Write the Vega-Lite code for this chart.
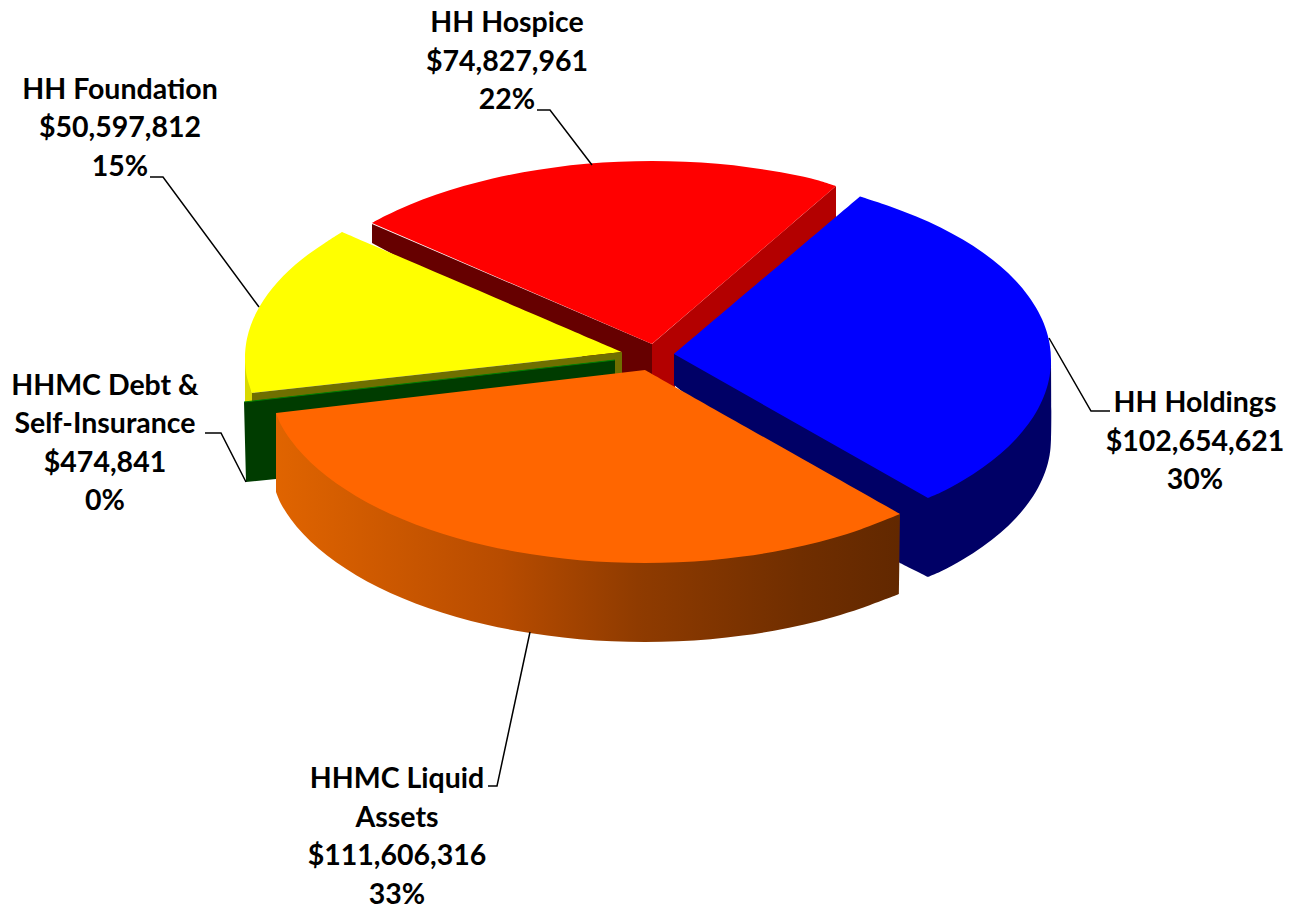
{"$schema":"https://vega.github.io/schema/vega-lite/v6.json","width":1301,"height":911,"padding":0,"autosize":{"type":"none"},"background":"#ffffff","config":{"view":{"stroke":null}},
"datasets":{"labels":[
{"name":"HH Hospice","label":"HH Hospice\n$74,827,961\n22%","x":507,"y":23},
{"name":"HH Foundation","label":"HH Foundation\n$50,597,812\n15%","x":120,"y":89.5},
{"name":"HHMC Debt & Self-Insurance","label":"HHMC Debt &\nSelf-Insurance\n$474,841\n0%","x":105,"y":385.5},
{"name":"HH Holdings","label":"HH Holdings\n$102,654,621\n30%","x":1195,"y":403},
{"name":"HHMC Liquid Assets","label":"HHMC Liquid\nAssets\n$111,606,316\n33%","x":397,"y":779}],
"shapes":[
{"p":"l1","x":537,"y":110},{"p":"l1","x":550,"y":110},{"p":"l1","x":592,"y":165},
{"p":"l2","x":150,"y":177},{"p":"l2","x":163,"y":177},{"p":"l2","x":259,"y":307},
{"p":"l3","x":1110,"y":411},{"p":"l3","x":1091,"y":411},{"p":"l3","x":1049,"y":338},
{"p":"l4","x":205,"y":433},{"p":"l4","x":221,"y":433},{"p":"l4","x":246,"y":482},
{"p":"l5","x":488,"y":786},{"p":"l5","x":497,"y":786},{"p":"l5","x":530,"y":632},
{"p":"rm","x":372,"y":224},{"p":"rm","x":652,"y":344},{"p":"rm","x":652,"y":378},{"p":"rm","x":622,"y":378},{"p":"rm","x":372,"y":243},
{"p":"rd","x":652,"y":344},{"p":"rd","x":836,"y":186},{"p":"rd","x":836,"y":222},{"p":"rd","x":680,"y":358},{"p":"rd","x":674,"y":392},{"p":"rd","x":652,"y":378},
{"p":"rt","x":652,"y":344},{"p":"rt","x":652,"y":344},{"p":"rt","x":836,"y":186},{"p":"rt","x":836,"y":186},{"p":"rt","x":811.3,"y":178.5},{"p":"rt","x":780.9,"y":172.3},{"p":"rt","x":749.6,"y":167.4},{"p":"rt","x":717.5,"y":163.8},{"p":"rt","x":684.9,"y":161.7},{"p":"rt","x":652,"y":161},{"p":"rt","x":619.1,"y":161.7},{"p":"rt","x":586.5,"y":163.8},{"p":"rt","x":554.4,"y":167.4},{"p":"rt","x":523.1,"y":172.3},{"p":"rt","x":492.7,"y":178.5},{"p":"rt","x":463.5,"y":186.1},{"p":"rt","x":435.8,"y":194.8},{"p":"rt","x":409.7,"y":204.7},{"p":"rt","x":385.4,"y":215.8},{"p":"rt","x":372,"y":223},{"p":"rt","x":372,"y":223},
{"p":"ns","x":674,"y":354},{"p":"ns","x":674,"y":354},{"p":"ns","x":1051,"y":360},{"p":"ns","x":1051,"y":360},{"p":"ns","x":1051,"y":439},{"p":"ns","x":1049.6,"y":455.3},{"p":"ns","x":1045.3,"y":471.6},{"p":"ns","x":1038.2,"y":487.5},{"p":"ns","x":1028.3,"y":503.1},{"p":"ns","x":1015.7,"y":518.2},{"p":"ns","x":1000.5,"y":532.8},{"p":"ns","x":982.8,"y":546.5},{"p":"ns","x":962.8,"y":559.5},{"p":"ns","x":940.6,"y":571.6},{"p":"ns","x":928,"y":577},{"p":"ns","x":928,"y":577},{"p":"ns","x":900,"y":563},{"p":"ns","x":900,"y":563},{"p":"ns","x":674,"y":385},{"p":"ns","x":674,"y":385},
{"p":"bt","x":674,"y":354},{"p":"bt","x":674,"y":354},{"p":"bt","x":860,"y":196.5},{"p":"bt","x":860,"y":196.5},{"p":"bt","x":890.2,"y":206.4},{"p":"bt","x":916.3,"y":216.4},{"p":"bt","x":940.6,"y":227.4},{"p":"bt","x":962.8,"y":239.5},{"p":"bt","x":982.8,"y":252.5},{"p":"bt","x":1000.5,"y":266.3},{"p":"bt","x":1015.7,"y":280.8},{"p":"bt","x":1028.3,"y":295.9},{"p":"bt","x":1038.2,"y":311.5},{"p":"bt","x":1045.3,"y":327.4},{"p":"bt","x":1049.6,"y":343.7},{"p":"bt","x":1051,"y":360},{"p":"bt","x":1049.6,"y":376.3},{"p":"bt","x":1045.3,"y":392.6},{"p":"bt","x":1038.2,"y":408.5},{"p":"bt","x":1028.3,"y":424.1},{"p":"bt","x":1015.7,"y":439.2},{"p":"bt","x":1000.5,"y":453.8},{"p":"bt","x":982.8,"y":467.5},{"p":"bt","x":962.8,"y":480.5},{"p":"bt","x":940.6,"y":492.6},{"p":"bt","x":928,"y":498},{"p":"bt","x":928,"y":498},
{"p":"ys","x":245,"y":358},{"p":"ys","x":245,"y":402},{"p":"ys","x":252,"y":402},{"p":"ys","x":252,"y":393},
{"p":"yt","x":622,"y":352},{"p":"yt","x":622,"y":352},{"p":"yt","x":342,"y":232},{"p":"yt","x":342,"y":232},{"p":"yt","x":324.9,"y":242.9},{"p":"yt","x":309.5,"y":253.4},{"p":"yt","x":295.5,"y":264.5},{"p":"yt","x":283.2,"y":276},{"p":"yt","x":272.5,"y":288},{"p":"yt","x":263.5,"y":300.2},{"p":"yt","x":256.2,"y":312.8},{"p":"yt","x":250.7,"y":325.5},{"p":"yt","x":247,"y":338.5},{"p":"yt","x":245.2,"y":351.5},{"p":"yt","x":245,"y":358},{"p":"yt","x":245.2,"y":364.5},{"p":"yt","x":247,"y":377.5},{"p":"yt","x":252,"y":393},{"p":"yt","x":252,"y":393},
{"p":"ol","x":622,"y":352},{"p":"ol","x":252,"y":393},{"p":"ol","x":252,"y":402},{"p":"ol","x":615,"y":361},{"p":"ol","x":615,"y":375},{"p":"ol","x":622,"y":374},
{"p":"gr","x":244,"y":402},{"p":"gr","x":615,"y":360},{"p":"gr","x":615,"y":385},{"p":"gr","x":276,"y":420},{"p":"gr","x":276,"y":479},{"p":"gr","x":246,"y":482},
{"p":"ge","x":244,"y":402},{"p":"ge","x":615,"y":360},
{"p":"os","x":900,"y":514},{"p":"os","x":900,"y":514},{"p":"os","x":899,"y":594},{"p":"os","x":899,"y":594},{"p":"os","x":861.2,"y":608.2},{"p":"os","x":833.5,"y":616.9},{"p":"os","x":804.3,"y":624.5},{"p":"os","x":773.9,"y":630.7},{"p":"os","x":742.6,"y":635.6},{"p":"os","x":710.5,"y":639.2},{"p":"os","x":677.9,"y":641.3},{"p":"os","x":645,"y":642},{"p":"os","x":612.1,"y":641.3},{"p":"os","x":579.5,"y":639.2},{"p":"os","x":547.4,"y":635.6},{"p":"os","x":516.1,"y":630.7},{"p":"os","x":485.7,"y":624.5},{"p":"os","x":456.5,"y":616.9},{"p":"os","x":428.8,"y":608.2},{"p":"os","x":402.7,"y":598.3},{"p":"os","x":378.4,"y":587.2},{"p":"os","x":356.2,"y":575.2},{"p":"os","x":336.2,"y":562.3},{"p":"os","x":318.5,"y":548.5},{"p":"os","x":303.3,"y":534},{"p":"os","x":290.7,"y":518.9},{"p":"os","x":280.8,"y":503.4},{"p":"os","x":276,"y":492},{"p":"os","x":276,"y":492},{"p":"os","x":276,"y":413},{"p":"os","x":276,"y":413},
{"p":"ot","x":645,"y":370},{"p":"ot","x":645,"y":370},{"p":"ot","x":900,"y":514},{"p":"ot","x":900,"y":514},{"p":"ot","x":861.2,"y":529.2},{"p":"ot","x":833.5,"y":537.9},{"p":"ot","x":804.3,"y":545.5},{"p":"ot","x":773.9,"y":551.7},{"p":"ot","x":742.6,"y":556.6},{"p":"ot","x":710.5,"y":560.2},{"p":"ot","x":677.9,"y":562.3},{"p":"ot","x":645,"y":563},{"p":"ot","x":612.1,"y":562.3},{"p":"ot","x":579.5,"y":560.2},{"p":"ot","x":547.4,"y":556.6},{"p":"ot","x":516.1,"y":551.7},{"p":"ot","x":485.7,"y":545.5},{"p":"ot","x":456.5,"y":537.9},{"p":"ot","x":428.8,"y":529.2},{"p":"ot","x":402.7,"y":519.3},{"p":"ot","x":378.4,"y":508.2},{"p":"ot","x":356.2,"y":496.2},{"p":"ot","x":336.2,"y":483.3},{"p":"ot","x":318.5,"y":469.5},{"p":"ot","x":303.3,"y":455},{"p":"ot","x":290.7,"y":439.9},{"p":"ot","x":280.8,"y":424.4},{"p":"ot","x":276,"y":413},{"p":"ot","x":276,"y":413}
]},
"data":{"name":"shapes"},
"encoding":{"x":{"field":"x","type":"quantitative","scale":{"domain":[0,1301],"nice":false,"zero":false},"axis":null},"y":{"field":"y","type":"quantitative","scale":{"domain":[911,0],"nice":false,"zero":false},"axis":null},"order":{"value":null}},
"layer":[
{"transform":[{"filter":"datum.p==='rm'"}],"mark":{"type":"line","fill":"#660000","stroke":null}},
{"transform":[{"filter":"datum.p==='rd'"}],"mark":{"type":"line","fill":"#b30000","stroke":null}},
{"transform":[{"filter":"datum.p==='rt'"}],"mark":{"type":"line","interpolate":"catmull-rom","fill":"#ff0000","stroke":null}},
{"transform":[{"filter":"datum.p==='ns'"}],"mark":{"type":"line","interpolate":"catmull-rom","fill":"#000066","stroke":null}},
{"transform":[{"filter":"datum.p==='bt'"}],"mark":{"type":"line","interpolate":"catmull-rom","fill":"#0000ff","stroke":null}},
{"transform":[{"filter":"datum.p==='ys'"}],"mark":{"type":"line","fill":"#d9d900","stroke":null}},
{"transform":[{"filter":"datum.p==='yt'"}],"mark":{"type":"line","interpolate":"catmull-rom","fill":"#ffff00","stroke":null}},
{"transform":[{"filter":"datum.p==='ol'"}],"mark":{"type":"line","fill":"#6f6f00","stroke":null}},
{"transform":[{"filter":"datum.p==='gr'"}],"mark":{"type":"line","fill":"#003c00","stroke":null}},
{"transform":[{"filter":"datum.p==='ge'"}],"mark":{"type":"line","stroke":"#008000","strokeWidth":1}},
{"transform":[{"filter":"datum.p==='os'"}],"mark":{"type":"line","interpolate":"catmull-rom","stroke":null,"fill":{"gradient":"linear","x1":0,"y1":0,"x2":1,"y2":0,"stops":[{"offset":0,"color":"#e06400"},{"offset":0.36,"color":"#b84c00"},{"offset":0.58,"color":"#8f3b00"},{"offset":0.84,"color":"#702e00"},{"offset":1,"color":"#622800"}]}}},
{"transform":[{"filter":"datum.p==='ot'"}],"mark":{"type":"line","interpolate":"catmull-rom","fill":"#ff6600","stroke":null}},
{"transform":[{"filter":"test(/^l[0-9]$/, datum.p)"}],"mark":{"type":"line","stroke":"#000000","strokeWidth":1.5},"encoding":{"detail":{"field":"p"}}},
{"data":{"name":"labels"},"mark":{"type":"text","font":"Lato","fontWeight":"bold","fontSize":28.5,"lineHeight":38.5,"lineBreak":"\n","align":"center","baseline":"middle","color":"#000000"},"encoding":{"text":{"field":"label"}}}
]}
